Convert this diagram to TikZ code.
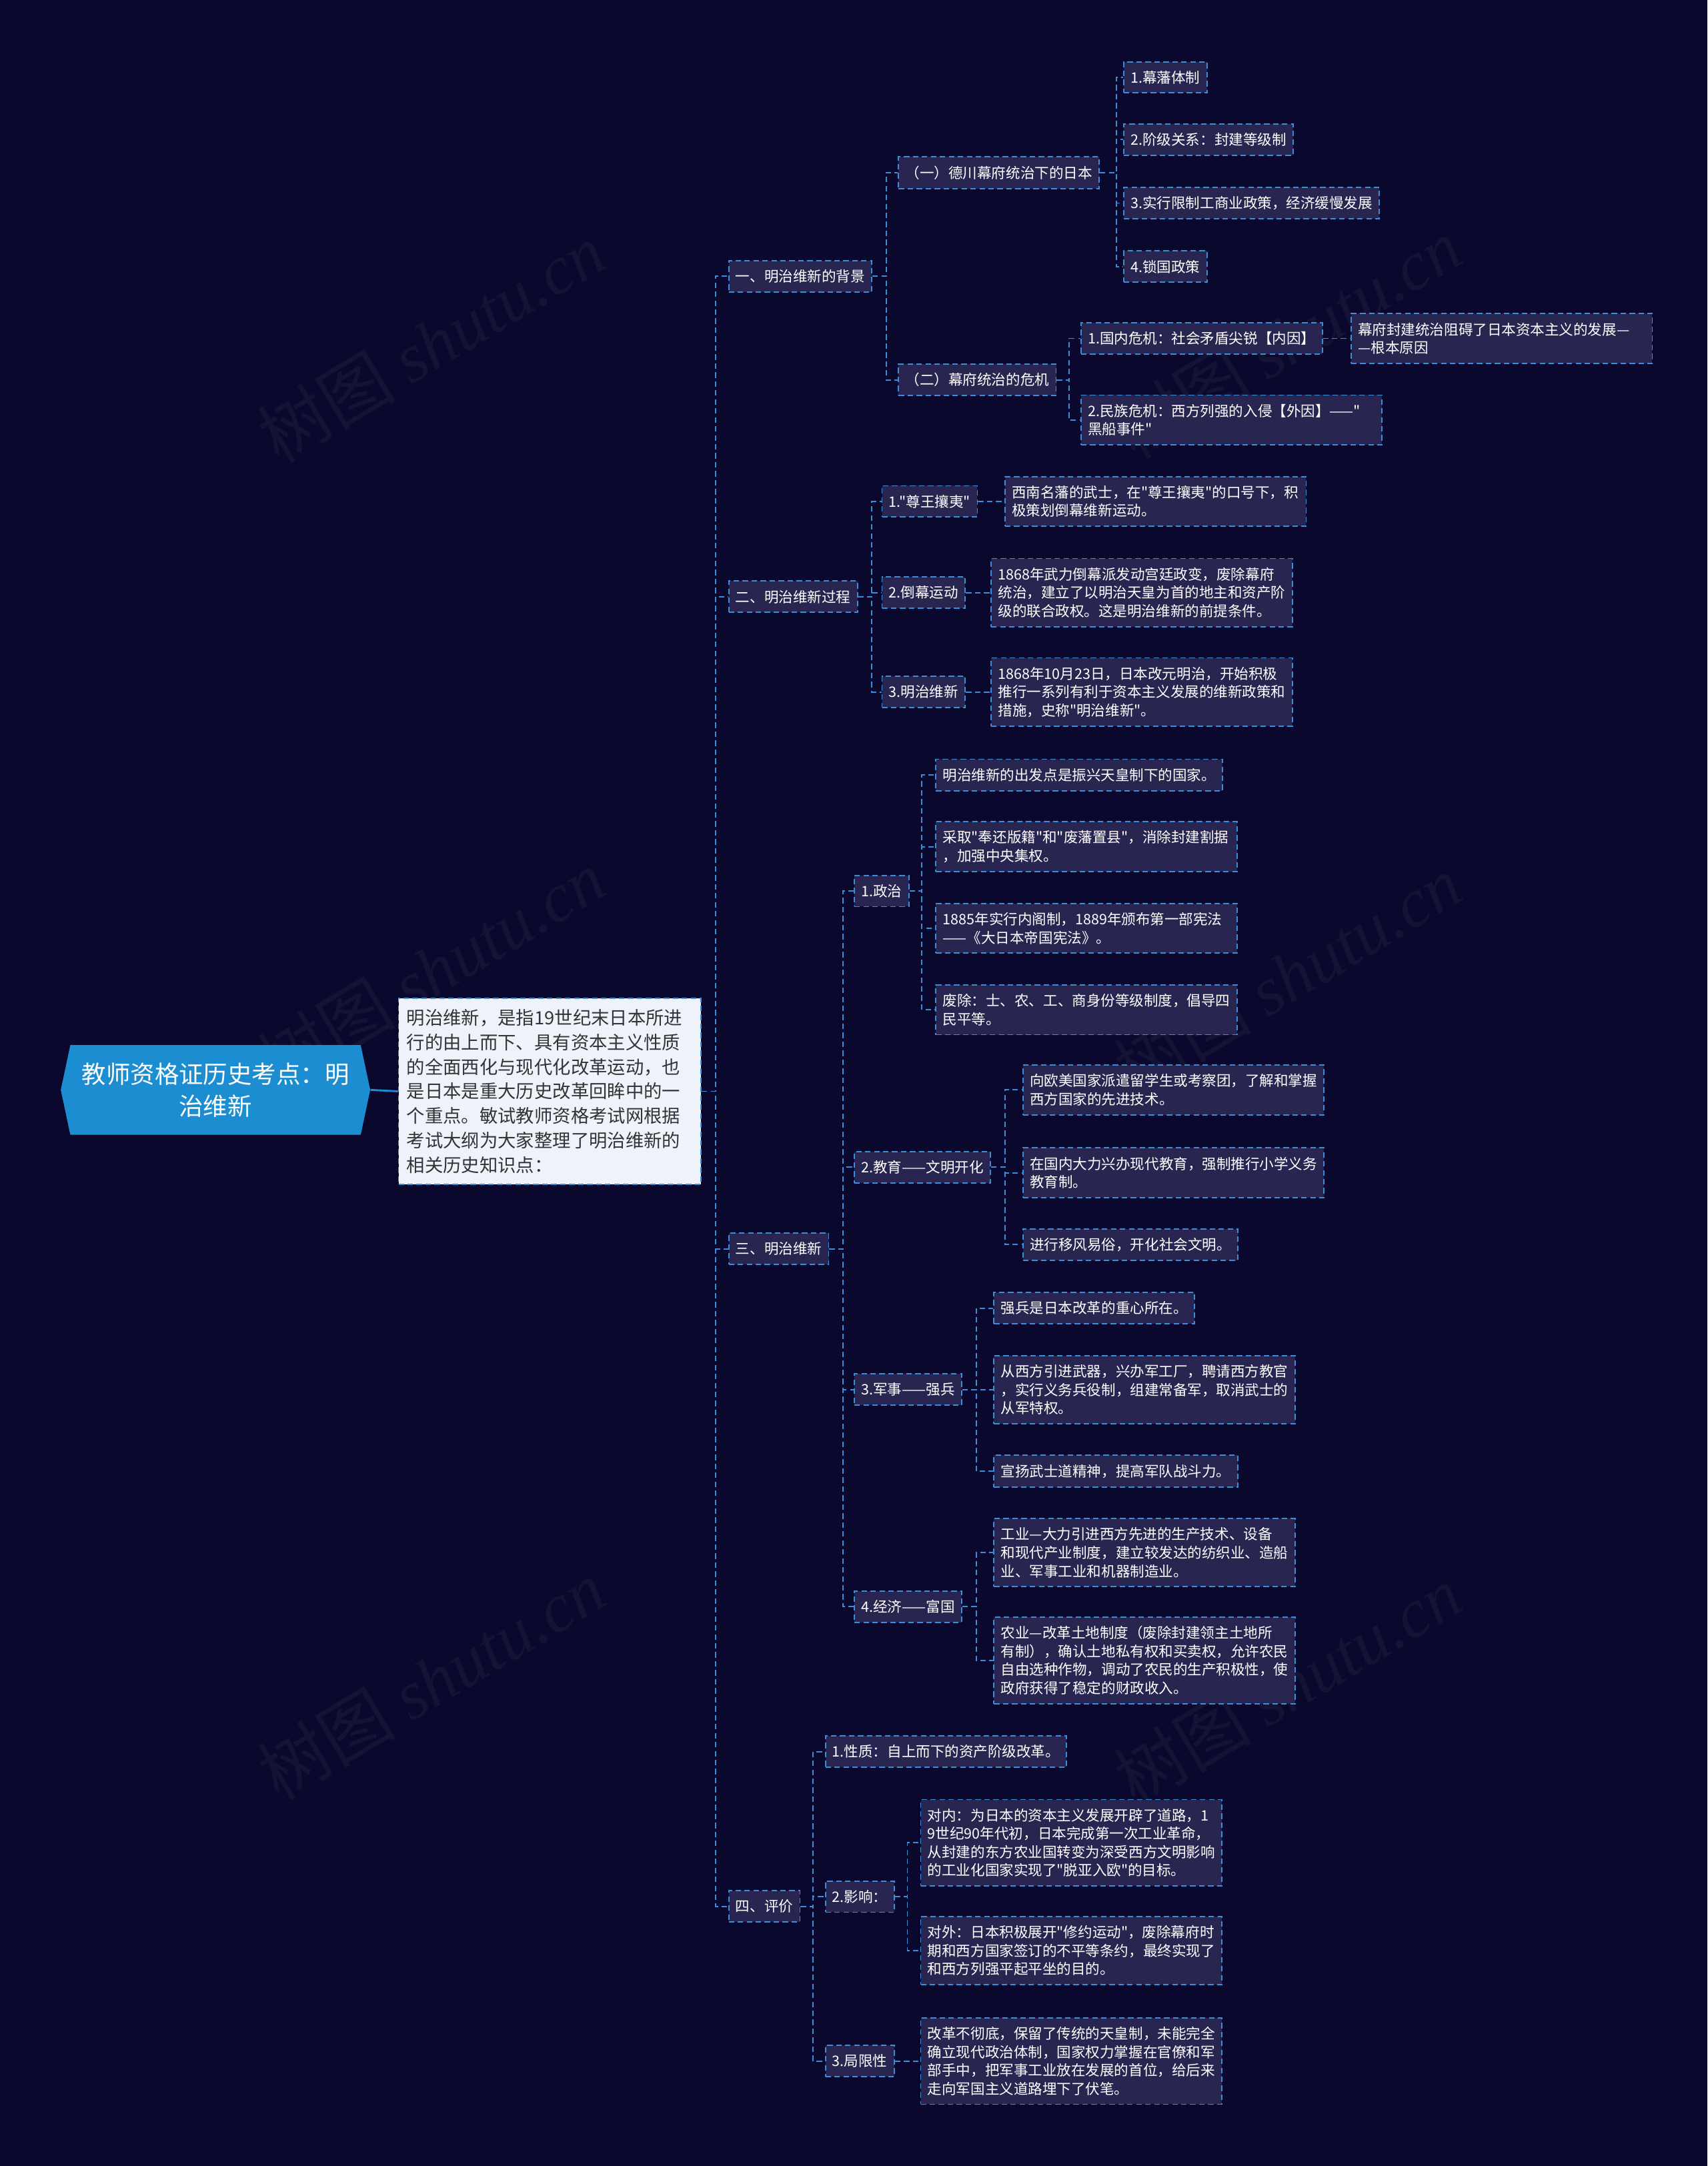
\documentclass[tikz,border=0pt]{standalone}
\usepackage{fontspec}
\setmainfont{Noto Sans CJK SC}[Ligatures=TeXOff]
\newfontfamily\wmfont{Liberation Serif}
\usepackage{xcolor}
\definecolor{bgnavy}{HTML}{0A082C}
\definecolor{boxfill}{HTML}{282650}
\definecolor{linkblue}{HTML}{3A8EDA}
\definecolor{rootblue}{HTML}{1B8DD0}
\definecolor{introfill}{HTML}{EEF3FB}
\definecolor{introtext}{HTML}{333333}
\usetikzlibrary{positioning,calc,shapes.symbols}
\newcommand\nodefont{\fontsize{10.4pt}{13.3pt}\selectfont}

\begin{document}
\begin{tikzpicture}[
        x=1pt, y=-1pt,
        topic/.style={draw=linkblue, dash pattern=on 4pt off 2.5pt, line width=0.9pt, fill=boxfill, text=white, font=\nodefont, inner xsep=5pt, inner ysep=6.5pt, anchor=west},
        note/.style={topic, text width=208pt, align=left},
        link/.style={draw=linkblue, dash pattern=on 4pt off 2.5pt, line width=0.9pt},
        root/.style={shape=signal, signal to=west and east, signal pointer angle=156, fill=rootblue, text=white, font=\fontsize{17.6pt}{23pt}\selectfont, minimum width=224pt, minimum height=65pt, align=center, inner xsep=4pt},
        intro/.style={draw=linkblue, dash pattern=on 4pt off 2.5pt, line width=0.9pt, fill=introfill, text=introtext, font=\fontsize{13.2pt}{17.8pt}\selectfont, text width=207pt, align=left, inner xsep=6pt, inner ysep=8pt, anchor=west},
        wmark/.style={text=white, opacity=0.045, font=\fontsize{50pt}{50pt}\selectfont, rotate=31},
    ]

    \useasboundingbox (0,0) rectangle (1236,1568);
    \fill[bgnavy] (0,0) rectangle (1236,1568);

    % === watermarks ===
    \node[wmark] (wm1) at (312,248) {树图 {\wmfont\itshape shutu.cn}};
    \node[wmark] (wm2) at (932,245) {树图 {\wmfont\itshape shutu.cn}};
    \node[wmark] (wm3) at (312,702) {树图 {\wmfont\itshape shutu.cn}};
    \node[wmark] (wm4) at (932,706) {树图 {\wmfont\itshape shutu.cn}};
    \node[wmark] (wm5) at (312,1216) {树图 {\wmfont\itshape shutu.cn}};
    \node[wmark] (wm6) at (932,1220) {树图 {\wmfont\itshape shutu.cn}};

    % === Root and introduction ===
    \node[root] (root) at (156,789) {教师资格证历史考点：明\\治维新};
    \node[intro] (intro) at (288,790) {明治维新，是指19世纪末日本所进\\行的由上而下、具有资本主义性质\\的全面西化与现代化改革运动，也\\是日本是重大历史改革回眸中的一\\个重点。敏试教师资格考试网根据\\考试大纲为大家整理了明治维新的\\相关历史知识点：};
    \draw[rootblue, line width=1.4pt] (root.east) -- (intro.west);

    % === Level 1 ===
    \node[topic] (bg) at (527,200) {一、明治维新的背景};
    \node[topic] (proc) at (527,432) {二、明治维新过程};
    \node[topic] (mr) at (527,904) {三、明治维新};
    \node[topic] (eval) at (527,1380) {四、评价};
    \foreach \c in {bg,proc,mr,eval}
        \draw[link] (intro.east) -- ++(10,0) |- (\c.west);

    % === 一、背景 ===
    \node[topic] (bgA) at (650,125) {（一）德川幕府统治下的日本};
    \node[topic] (bgB) at (650,275) {（二）幕府统治的危机};
    \node[topic] (bgA1) at (813,56) {1.幕藩体制};
    \node[topic] (bgA2) at (813,101) {2.阶级关系：封建等级制};
    \node[topic] (bgA3) at (813,147) {3.实行限制工商业政策，经济缓慢发展};
    \node[topic] (bgA4) at (813,193) {4.锁国政策};
    \node[topic] (bgB1) at (782,245) {1.国内危机：社会矛盾尖锐【内因】};
    \node[note, right=20pt of bgB1] (bgB1x) {幕府封建统治阻碍了日本资本主义的发展—\\—根本原因};
    \node[note] (bgB2) at (782,304) {2.民族危机：西方列强的入侵【外因】——"\\黑船事件"};
    \foreach \c in {bgA,bgB}
        \draw[link] (bg.east) -- ++(10,0) |- (\c.west);
    \foreach \c in {bgA1,bgA2,bgA3,bgA4}
        \draw[link] (bgA.east) -- ++(12,0) |- (\c.west);
    \foreach \c in {bgB1,bgB2}
        \draw[link] (bgB.east) -- ++(9,0) |- (\c.west);
    \draw[link] (bgB1) -- (bgB1x);

    % === 二、过程 ===
    \node[topic] (procA) at (638,363) {1."尊王攘夷"};
    \node[topic] (procB) at (638,429) {2.倒幕运动};
    \node[topic] (procC) at (638,501) {3.明治维新};
    \node[note] (procAx) at (727,363) {西南名藩的武士，在"尊王攘夷"的口号下，积\\极策划倒幕维新运动。};
    \node[note] (procBx) at (717,429) {1868年武力倒幕派发动宫廷政变，废除幕府\\统治，建立了以明治天皇为首的地主和资产阶\\级的联合政权。这是明治维新的前提条件。};
    \node[note] (procCx) at (717,501) {1868年10月23日，日本改元明治，开始积极\\推行一系列有利于资本主义发展的维新政策和\\措施，史称"明治维新"。};
    \foreach \c in {procA,procB,procC}
        \draw[link] (proc.east) -- ++(10,0) |- (\c.west);
    \draw[link] (procA) -- (procAx);
    \draw[link] (procB) -- (procBx);
    \draw[link] (procC) -- (procCx);

    % === 三、明治维新 ===
    \node[topic] (mrA) at (618,645) {1.政治};
    \node[topic] (mrB) at (618,845) {2.教育——文明开化};
    \node[topic] (mrC) at (618,1006) {3.军事——强兵};
    \node[topic] (mrD) at (618,1163) {4.经济——富国};
    \foreach \c in {mrA,mrB,mrC,mrD}
        \draw[link] (mr.east) -- ++(10,0) |- (\c.west);

    \node[topic] (mrA1) at (677,561) {明治维新的出发点是振兴天皇制下的国家。};
    \node[note] (mrA2) at (677,613) {采取"奉还版籍"和"废藩置县"，消除封建割据\\，加强中央集权。};
    \node[note] (mrA3) at (677,672) {1885年实行内阁制，1889年颁布第一部宪法\\——《大日本帝国宪法》。};
    \node[note] (mrA4) at (677,731) {废除：士、农、工、商身份等级制度，倡导四\\民平等。};
    \foreach \c in {mrA1,mrA2,mrA3,mrA4}
        \draw[link] (mrA.east) -- ++(9,0) |- (\c.west);

    \node[note] (mrB1) at (740,789) {向欧美国家派遣留学生或考察团，了解和掌握\\西方国家的先进技术。};
    \node[note] (mrB2) at (740,849) {在国内大力兴办现代教育，强制推行小学义务\\教育制。};
    \node[topic] (mrB3) at (740,901) {进行移风易俗，开化社会文明。};
    \foreach \c in {mrB1,mrB2,mrB3}
        \draw[link] (mrB.east) -- ++(10,0) |- (\c.west);

    \node[topic] (mrC1) at (719,947) {强兵是日本改革的重心所在。};
    \node[note] (mrC2) at (719,1006) {从西方引进武器，兴办军工厂，聘请西方教官\\，实行义务兵役制，组建常备军，取消武士的\\从军特权。};
    \node[topic] (mrC3) at (719,1065) {宣扬武士道精神，提高军队战斗力。};
    \foreach \c in {mrC1,mrC2,mrC3}
        \draw[link] (mrC.east) -- ++(10,0) |- (\c.west);

    \node[note] (mrD1) at (719,1124) {工业—大力引进西方先进的生产技术、设备\\和现代产业制度，建立较发达的纺织业、造船\\业、军事工业和机器制造业。};
    \node[note] (mrD2) at (719,1202) {农业—改革土地制度（废除封建领主土地所\\有制），确认土地私有权和买卖权，允许农民\\自由选种作物，调动了农民的生产积极性，使\\政府获得了稳定的财政收入。};
    \foreach \c in {mrD1,mrD2}
        \draw[link] (mrD.east) -- ++(10,0) |- (\c.west);

    % === 四、评价 ===
    \node[topic] (evA) at (597,1268) {1.性质：自上而下的资产阶级改革。};
    \node[topic] (evB) at (597,1373) {2.影响：};
    \node[topic] (evC) at (597,1492) {3.局限性};
    \foreach \c in {evA,evB,evC}
        \draw[link] (eval.east) -- ++(9,0) |- (\c.west);

    \node[note] (evB1) at (666,1334) {对内：为日本的资本主义发展开辟了道路，1\\9世纪90年代初，日本完成第一次工业革命，\\从封建的东方农业国转变为深受西方文明影响\\的工业化国家实现了"脱亚入欧"的目标。};
    \node[note] (evB2) at (666,1412) {对外：日本积极展开"修约运动"，废除幕府时\\期和西方国家签订的不平等条约，最终实现了\\和西方列强平起平坐的目的。};
    \foreach \c in {evB1,evB2}
        \draw[link] (evB.east) -- ++(9,0) |- (\c.west);
    \node[note] (evCx) at (666,1492) {改革不彻底，保留了传统的天皇制，未能完全\\确立现代政治体制，国家权力掌握在官僚和军\\部手中，把军事工业放在发展的首位，给后来\\走向军国主义道路埋下了伏笔。};
    \draw[link] (evC) -- (evCx);

\end{tikzpicture}
\end{document}
